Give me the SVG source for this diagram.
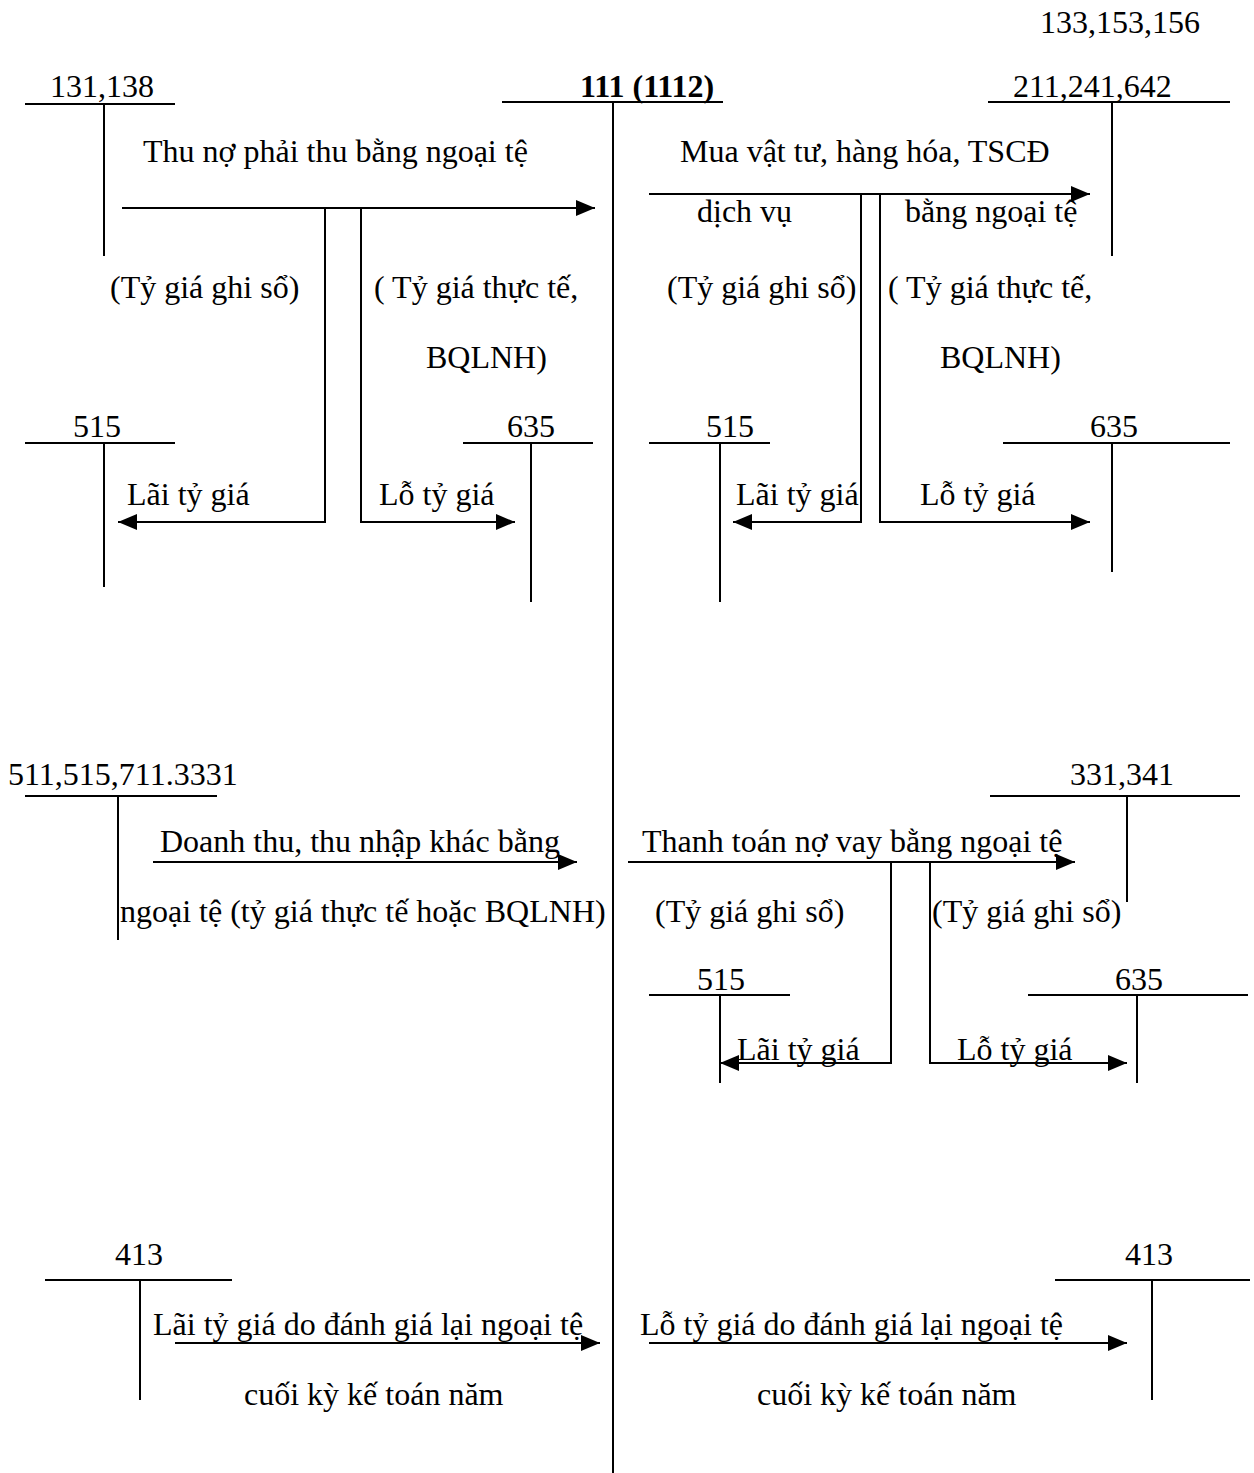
<svg xmlns="http://www.w3.org/2000/svg" width="1254" height="1473" viewBox="0 0 1254 1473">
  <style>
    text { font-family: "Liberation Serif", "Times New Roman", serif; font-size: 32px; fill: #000; }
    .b { font-weight: bold; }
    .t { stroke: #000; stroke-width: 2; fill: none; }
    .c { stroke: #000; stroke-width: 2; fill: none; }
    .a { marker-end: url(#arrow); }
  </style>
  <defs>
    <marker id="arrow" markerUnits="userSpaceOnUse" markerWidth="22" markerHeight="20" refX="19" refY="8" orient="auto">
      <path d="M0,0 L19,8 L0,16 z" fill="#000"/>
    </marker>
  </defs>

  <rect width="1254" height="1473" fill="#fff"/>

  <!-- T-accounts -->
  <g id="acc-111">
    <text x="580" y="97" class="b">111 (1112)</text>
    <path class="t" d="M502,102 H723 M613,102 V1473"/>
  </g>
  <g id="acc-131-138">
    <text x="50" y="97">131,138</text>
    <path class="t" d="M25,104 H175 M104,104 V256"/>
  </g>
  <g id="acc-211-241-642">
    <text x="1040" y="33">133,153,156</text>
    <text x="1013" y="97">211,241,642</text>
    <path class="t" d="M988,102 H1230 M1112,102 V256"/>
  </g>
  <g id="acc-515-a">
    <text x="73" y="437">515</text>
    <path class="t" d="M25,443 H175 M104,443 V587"/>
  </g>
  <g id="acc-635-a">
    <text x="507" y="437">635</text>
    <path class="t" d="M463,443 H593 M531,443 V602"/>
  </g>
  <g id="acc-515-b">
    <text x="706" y="437">515</text>
    <path class="t" d="M649,443 H770 M720,443 V602"/>
  </g>
  <g id="acc-635-b">
    <text x="1090" y="437">635</text>
    <path class="t" d="M1003,443 H1230 M1112,443 V572"/>
  </g>
  <g id="acc-511-515-711">
    <text x="8" y="785">511,515,711.3331</text>
    <path class="t" d="M25,796 H217 M118,796 V940"/>
  </g>
  <g id="acc-331-341">
    <text x="1070" y="785">331,341</text>
    <path class="t" d="M990,796 H1240 M1127,796 V902"/>
  </g>
  <g id="acc-515-c">
    <text x="697" y="990">515</text>
    <path class="t" d="M649,995 H790 M720,995 V1083"/>
  </g>
  <g id="acc-635-c">
    <text x="1115" y="990">635</text>
    <path class="t" d="M1028,995 H1248 M1137,995 V1083"/>
  </g>
  <g id="acc-413-a">
    <text x="115" y="1265">413</text>
    <path class="t" d="M45,1280 H232 M140,1280 V1400"/>
  </g>
  <g id="acc-413-b">
    <text x="1125" y="1265">413</text>
    <path class="t" d="M1055,1280 H1250 M1152,1280 V1400"/>
  </g>

  <!-- Connectors -->
  <g id="connectors">
    <path class="c a" d="M122,208 H595"/>
    <path class="c a" d="M325,208 V522 H118"/>
    <path class="c a" d="M361,208 V522 H515"/>

    <path class="c a" d="M649,194 H1090"/>
    <path class="c a" d="M861,194 V522 H733"/>
    <path class="c a" d="M880,194 V522 H1090"/>

    <path class="c a" d="M153,862 H577"/>

    <path class="c a" d="M628,862 H1075"/>
    <path class="c a" d="M891,862 V1063 H720"/>
    <path class="c a" d="M930,862 V1063 H1127"/>

    <path class="c a" d="M175,1343 H600"/>
    <path class="c a" d="M649,1343 H1127"/>
  </g>

  <!-- Labels -->
  <g id="labels">
    <text x="143" y="162">Thu nợ phải thu bằng ngoại tệ</text>
    <text x="110" y="298">(Tỷ giá ghi sổ)</text>
    <text x="374" y="298">( Tỷ giá thực tế,</text>
    <text x="426" y="368">BQLNH)</text>
    <text x="127" y="505">Lãi tỷ giá</text>
    <text x="379" y="505">Lỗ tỷ giá</text>

    <text x="680" y="162">Mua vật tư, hàng hóa, TSCĐ</text>
    <text x="697" y="222">dịch vụ</text>
    <text x="905" y="222">bằng ngoại tệ</text>
    <text x="667" y="298">(Tỷ giá ghi sổ)</text>
    <text x="888" y="298">( Tỷ giá thực tế,</text>
    <text x="940" y="368">BQLNH)</text>
    <text x="736" y="505">Lãi tỷ giá</text>
    <text x="920" y="505">Lỗ tỷ giá</text>

    <text x="160" y="852">Doanh thu, thu nhập khác bằng</text>
    <text x="120" y="922">ngoại tệ (tỷ giá thực tế hoặc BQLNH)</text>

    <text x="642" y="852">Thanh toán nợ vay bằng ngoại tệ</text>
    <text x="655" y="922">(Tỷ giá ghi sổ)</text>
    <text x="932" y="922">(Tỷ giá ghi sổ)</text>
    <text x="737" y="1060">Lãi tỷ giá</text>
    <text x="957" y="1060">Lỗ tỷ giá</text>

    <text x="153" y="1335">Lãi tỷ giá do đánh giá lại ngoại tệ</text>
    <text x="244" y="1405">cuối kỳ kế toán năm</text>
    <text x="640" y="1335">Lỗ tỷ giá do đánh giá lại ngoại tệ</text>
    <text x="757" y="1405">cuối kỳ kế toán năm</text>
  </g>
</svg>
